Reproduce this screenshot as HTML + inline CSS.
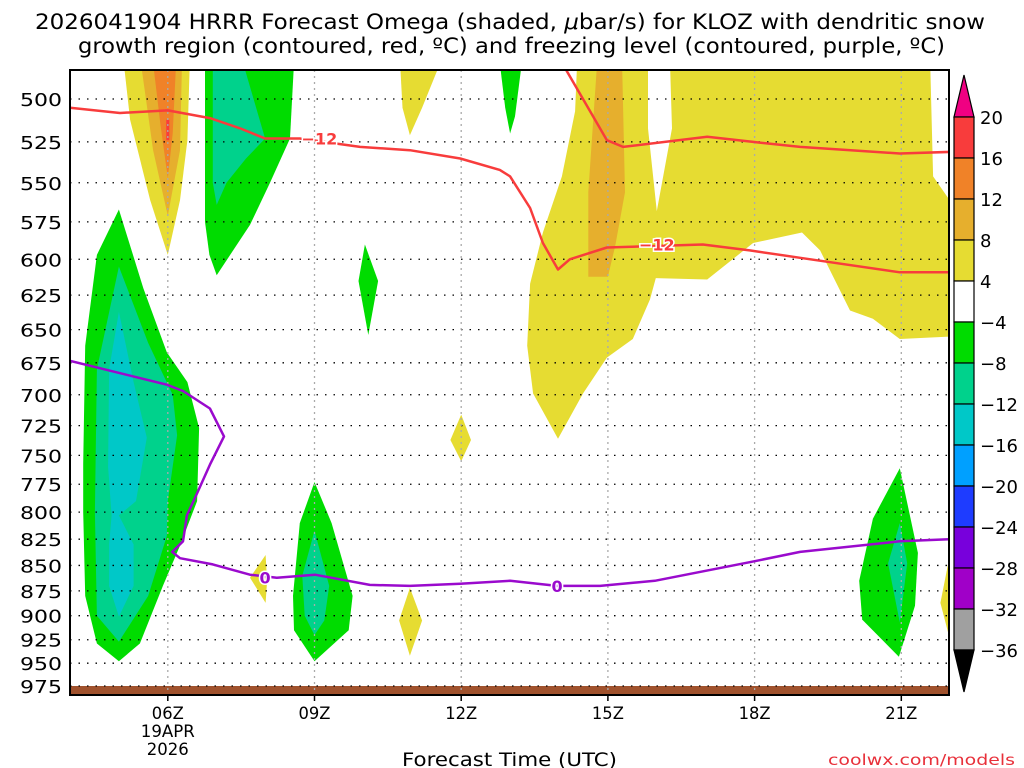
<!DOCTYPE html>
<html><head><meta charset="utf-8"><style>
html,body{margin:0;padding:0;background:#fff;}
svg{display:block;font-family:"DejaVu Sans","Liberation Sans",sans-serif;}
</style></head><body>
<svg id="chart" width="1024" height="768" viewBox="0 0 1024 768">
<text x="35" y="29" textLength="950" lengthAdjust="spacingAndGlyphs" font-size="21" fill="#000">2026041904 HRRR Forecast Omega (shaded, <tspan font-style="italic">μ</tspan>bar/s) for KLOZ with dendritic snow</text>
<text x="78" y="53" textLength="867" lengthAdjust="spacingAndGlyphs" font-size="21" fill="#000">growth region (contoured, red, ºC) and freezing level (contoured, purple, ºC)</text>
<defs><clipPath id="pc"><rect x="70" y="70" width="879" height="625"/></clipPath></defs>
<g id="fills" clip-path="url(#pc)"></g>
<g id="grid"></g>
<g id="lines" clip-path="url(#pc)"></g>
<rect x="70" y="70" width="879" height="625" fill="none" stroke="#000" stroke-width="2"/>
<g id="axes"></g>
<g id="cbar"></g>
<text x="402" y="766" textLength="215" lengthAdjust="spacingAndGlyphs" font-size="19" fill="#000">Forecast Time (UTC)</text>
<text x="828" y="765" textLength="187" lengthAdjust="spacingAndGlyphs" font-size="15" fill="#e8303a">coolwx.com/models</text>
</svg>
<script>
const pressureTicks=[500,525,550,575,600,625,650,675,700,725,750,775,800,825,850,875,900,925,950,975];
const hourTicks=[6,9,12,15,18,21];
const hourLabels=["06Z","09Z","12Z","15Z","18Z","21Z"];
const cbarLevels=[20,16,12,8,4,-4,-8,-12,-16,-20,-24,-28,-32,-36];
const cbarColors=["#f83c3c","#f08228","#e6af2d","#e6dc32","#ffffff","#00dc00","#00d28c","#00c8c8","#00a0ff","#1e3cff","#7800dc","#a000c8","#a0a0a0"];
const yellowAreas=[
 [[5.1,480],[6.45,480],[6.4,524],[6.25,561],[6.0,597],[5.64,561],[5.23,512]],
 [[10.75,480],[11.57,480],[11.2,505],[10.95,521],[10.8,505]],
 [[8.0,840],[8.03,865],[8.0,887],[7.68,862]],
 [[10.95,872],[11.2,905],[10.95,942],[10.73,905]],
 [[12.0,716],[12.2,737],[12.0,755],[11.78,737]],
 [[14.37,480],[14.33,507],[14.06,546],[13.67,582],[13.41,617],[13.35,662],[13.47,699],[13.98,736],[14.49,699],[14.98,671],[15.51,657],[15.86,628],[15.98,613],[17.03,614],[17.97,589],[18.97,582],[19.34,594],[19.95,636],[20.42,642],[20.97,657],[22.1,655],[22.1,566],[21.65,546],[21.59,480],[16.27,480],[16.31,517],[16.0,568],[15.82,517],[15.82,480]],
 [[22.1,815],[21.8,887],[22.1,946]]
];
const goldAreas=[
 [[5.45,480],[6.29,480],[6.25,530],[6.0,571],[5.7,530]],
 [[14.78,480],[15.29,480],[15.35,556],[15.15,591],[15.0,612],[14.6,612],[14.6,556]]
];
const orangeAreas=[[[5.7,480],[6.17,480],[6.1,520],[6.0,547],[5.85,515]]];
const redAreas=[[[5.97,512],[6.03,512],[6.03,524],[5.97,524]]];
const greenAreas=[
 [[6.76,480],[8.58,480],[8.5,523],[8.09,550],[7.68,577],[7.0,611],[6.85,597],[6.76,575]],
 [[5.0,567],[5.5,620],[5.98,667],[6.4,690],[6.64,727],[6.6,790],[6.25,831],[5.9,870],[5.43,929],[5.0,948],[4.55,929],[4.31,880],[4.27,800],[4.27,757],[4.31,662],[4.55,597]],
 [[9.0,773],[9.35,810],[9.78,880],[9.7,915],[9.0,948],[8.58,915],[8.56,880],[8.7,810]],
 [[10.03,590],[10.3,615],[10.1,654],[9.9,615]],
 [[12.79,480],[13.24,480],[13.1,510],[13.0,520],[12.9,505]],
 [[20.97,761],[21.34,838],[21.28,890],[20.95,943],[20.2,904],[20.14,865],[20.42,806]]
];
const tealAreas=[
 [[6.92,480],[7.54,480],[7.99,523],[7.6,535],[7.2,550],[7.0,564],[6.92,550]],
 [[5.0,605],[5.6,660],[6.1,700],[6.19,733],[6.0,790],[5.98,822],[5.6,880],[5.0,927],[4.55,900],[4.51,800],[4.55,680]],
 [[9.0,817],[9.3,870],[9.2,905],[9.0,920],[8.8,900],[8.75,860]],
 [[20.97,810],[21.12,848],[20.97,907],[20.73,848]]
];
const cyanAreas=[
 [[5.0,637],[5.3,690],[5.57,735],[5.35,790],[5.0,803],[5.3,830],[5.3,870],[5.0,901],[4.8,870],[4.8,830],[4.85,803],[4.78,760],[4.8,680]]
];
const redLower=[[4.0,505],[5.02,508],[6.0,506.5],[6.86,511],[7.48,517],[7.99,523],[8.7,523],[9.93,528],[10.95,530],[11.98,535],[12.79,542],[13.0,546],[13.41,566],[13.67,589],[13.98,607],[14.22,600],[14.98,592],[16.94,590],[17.9,594],[18.93,599],[20.97,609],[22.0,609]];
const redUpper=[[14.02,478],[14.98,524],[15.31,528],[17.03,522],[17.97,525],[18.93,528],[20.97,532],[22.0,531]];
const purpleLine=[[4.0,673.5],[5.98,692],[6.31,697],[6.86,711],[7.15,734],[6.86,758],[6.6,783],[6.39,803],[6.31,827],[6.09,837],[6.25,843],[6.92,849],[7.68,859],[8.23,862],[9.01,859],[10.13,869],[10.95,870],[11.98,868],[13.0,865],[13.96,870],[14.84,870],[15.96,865],[17.99,846],[18.93,837],[20.97,827],[22.0,825]];
const redLabels=[[9.1,523],[16.0,590]];
const purpleLabels=[[7.99,862],[13.96,870]];

const NS="http://www.w3.org/2000/svg";
const X=h=>70+(h-4)*48.9;
const Y=p=>99+879*Math.log(p/500);
function mk(tag,attrs,parent){const e=document.createElementNS(NS,tag);for(const k in attrs)e.setAttribute(k,attrs[k]);parent.appendChild(e);return e;}
const fills=document.getElementById('fills');
function drawAreas(list,color,name){list.forEach(poly=>{
 const e=mk('polygon',{points:poly.map(q=>X(q[0]).toFixed(1)+','+Y(q[1]).toFixed(1)).join(' '),fill:color},fills);
 
 });}
drawAreas(yellowAreas,"#e6dc32","omega-4-8-area");
drawAreas(goldAreas,"#e6af2d","omega-8-12-area");
drawAreas(orangeAreas,"#f08228","omega-12-16-area");
drawAreas(redAreas,"#f83c3c","omega-16-20-area");
drawAreas(greenAreas,"#00dc00","omega-neg4-neg8-area");
drawAreas(tealAreas,"#00d28c","omega-neg8-neg12-area");
drawAreas(cyanAreas,"#00c8c8","omega-neg12-neg16-area");
const g0=mk('rect',{x:70,y:686,width:879,height:9,fill:"#a0522d"},fills);


const grid=document.getElementById('grid');
pressureTicks.forEach(p=>{const e=mk('line',{x1:70,x2:949,y1:Y(p),y2:Y(p),stroke:"#000","stroke-width":1.3,"stroke-dasharray":"1.5 7"},grid);
 
 });
hourTicks.forEach(h=>{const e=mk('line',{x1:X(h),x2:X(h),y1:70,y2:695,stroke:"#aaa","stroke-width":1.3,"stroke-dasharray":"2 4"},grid);
 
 });
const lines=document.getElementById('lines');
function drawLine(pts,color,name){const e=mk('polyline',{points:pts.map(q=>X(q[0]).toFixed(1)+','+Y(q[1]).toFixed(1)).join(' '),fill:"none",stroke:color,"stroke-width":2.5,"stroke-linejoin":"round"},lines);
 
 }
drawLine(redLower,"#f83c3c","dgz-minus12-lower-contour");
drawLine(redUpper,"#f83c3c","dgz-minus12-upper-contour");
drawLine(purpleLine,"#9a0acd","freezing-level-contour");
function drawLabels(list,txt,color,name){list.forEach(q=>{
 const t=mk('text',{x:X(q[0]),y:Y(q[1])+6,"text-anchor":"middle","font-size":16,"font-weight":"bold",fill:color,stroke:"#fff","stroke-width":3,"paint-order":"stroke"},lines);
 t.textContent=txt;
 
 });}
drawLabels(redLabels,"−12","#f83c3c","contour-label-minus12");
drawLabels(purpleLabels,"0","#9a0acd","contour-label-0");
const axes=document.getElementById('axes');
pressureTicks.forEach(p=>{const t=mk('text',{x:20,y:Y(p)+7,textLength:42,lengthAdjust:"spacingAndGlyphs","font-size":18,fill:"#000"},axes);t.textContent=p;
 
 });
hourTicks.forEach((h,i)=>{
 const l=mk('line',{x1:X(h),x2:X(h),y1:695,y2:701,stroke:"#000","stroke-width":1.5},axes);
 
 
 const t=mk('text',{x:X(h)-16,y:719,textLength:32,lengthAdjust:"spacingAndGlyphs","font-size":17,fill:"#000"},axes);t.textContent=hourLabels[i];
 
 });
const d1=mk('text',{x:X(6)-27,y:737,textLength:54,lengthAdjust:"spacingAndGlyphs","font-size":17,fill:"#000"},axes);d1.textContent="19APR";


const d2=mk('text',{x:X(6)-21,y:755,textLength:42,lengthAdjust:"spacingAndGlyphs","font-size":17,fill:"#000"},axes);d2.textContent="2026";


const cb=document.getElementById('cbar');
const cx0=954,cw=20,cTop=117,cStep=41;
const tri1=mk('polygon',{points:`${cx0},${cTop} ${cx0+cw},${cTop} ${cx0+cw/2},75`,fill:"#f00082",stroke:"#000","stroke-width":1.2},cb);


cbarColors.forEach((c,i)=>{const r=mk('rect',{x:cx0,y:cTop+i*cStep,width:cw,height:cStep,fill:c,stroke:"#000","stroke-width":1.2},cb);
 
 });
const yb=cTop+cbarColors.length*cStep;
const tri2=mk('polygon',{points:`${cx0},${yb} ${cx0+cw},${yb} ${cx0+cw/2},692`,fill:"#000",stroke:"#000","stroke-width":1.2},cb);


cbarLevels.forEach((v,i)=>{const t=mk('text',{x:980,y:cTop+i*cStep+7,"font-size":18,fill:"#000"},cb);t.textContent=v<0?"−"+(-v):String(v);
 
 });
</script>
</body></html>
